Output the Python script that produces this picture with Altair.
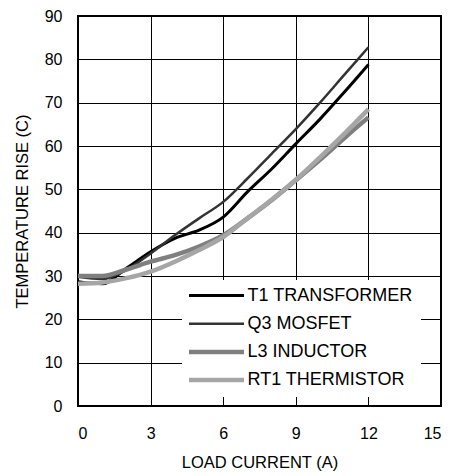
import altair as alt
import pandas as pd

current = [0, 1, 2, 3, 4, 5, 6, 7, 8, 9, 10, 11, 12]
t1_transformer = [28.7, 28.2, 31.8, 35.6, 38.7, 40.6, 43.6, 49.4, 54.7, 60.5, 66.2, 72.4, 78.8]
q3_mosfet = [29.8, 29.3, 31.4, 35.2, 39.4, 43.3, 47.1, 52.5, 58.2, 63.9, 70.0, 76.4, 82.8]
l3_inductor = [30.0, 30.0, 31.5, 33.3, 34.8, 36.8, 39.4, 43.3, 47.5, 52.1, 56.8, 61.8, 66.6]
rt1_thermistor = [28.2, 28.5, 29.5, 31.0, 33.3, 36.0, 39.0, 43.3, 47.6, 52.2, 57.4, 62.8, 68.5]

series_names = ["T1 TRANSFORMER", "Q3 MOSFET", "L3 INDUCTOR", "RT1 THERMISTOR"]
series_values = [t1_transformer, q3_mosfet, l3_inductor, rt1_thermistor]
series_colors = ["#000000", "#333333", "#7f7f7f", "#a6a6a6"]
series_widths = [3.0, 2.5, 4.5, 4.5]
legend_widths = [3.4, 2.9, 5.0, 5.0]

x_ticks = [0, 3, 6, 9, 12, 15]
y_ticks = [0, 10, 20, 30, 40, 50, 60, 70, 80, 90]

rows = []
for order, (name, vals) in enumerate(zip(series_names, series_values)):
    for x, v in zip(current, vals):
        rows.append({"current": x, "rise": v, "series": name, "order": order})
df = pd.DataFrame(rows)

font = "Liberation Sans"

axis_common = dict(ticks=False, tickSize=0, domain=False,
                   labelFontSize=16, titleFontSize=16.5, titleFontWeight="normal",
                   labelColor="#000000", titleColor="#000000",
                   gridColor="#000000", gridWidth=1, gridOpacity=1,
                   labelFont=font, titleFont=font)

width_expr = "indexof(" + str(series_names) + ", datum.value) >= 0 ? " \
             + str(legend_widths) + "[indexof(" + str(series_names) + ", datum.value)] : 3"

legend = alt.Legend(
    title=None, orient="none", legendX=104, legendY=264,
    symbolType="M-5,0H5", symbolSize=121,
    symbolOffset=19, labelOffset=22,
    rowPadding=10.2, padding=6.5,
    fillColor="#ffffff", strokeColor="#ffffff",
    labelFontSize=18, labelFont=font,
    labelColor="#000000", labelLimit=300,
    symbolStrokeWidth={"expr": width_expr},
)

chart = alt.Chart(df).mark_line(interpolate="monotone").encode(
    x=alt.X("current:Q", title="LOAD CURRENT (A)",
            scale=alt.Scale(domain=[0, 15], nice=False),
            axis=alt.Axis(values=x_ticks, labelPadding=19, titlePadding=13, **axis_common)),
    y=alt.Y("rise:Q", title="TEMPERATURE RISE (C)",
            scale=alt.Scale(domain=[0, 90], nice=False),
            axis=alt.Axis(values=y_ticks, labelPadding=16, titlePadding=14, **axis_common)),
    color=alt.Color("series:N", scale=alt.Scale(domain=series_names, range=series_colors),
                    legend=legend),
    strokeWidth=alt.StrokeWidth("series:N",
                                scale=alt.Scale(type="ordinal", domain=series_names,
                                                range=series_widths),
                                legend=None),
    order=alt.Order("order:Q"),
).properties(
    width=363, height=390,
    autosize=alt.AutoSizeParams(type="none"),
    padding={"left": 70, "top": 8, "right": 3, "bottom": 68},
).configure_view(
    stroke="#000000", strokeWidth=2
)

chart.save("out.html", embed_options={"renderer": "svg", "actions": False})
